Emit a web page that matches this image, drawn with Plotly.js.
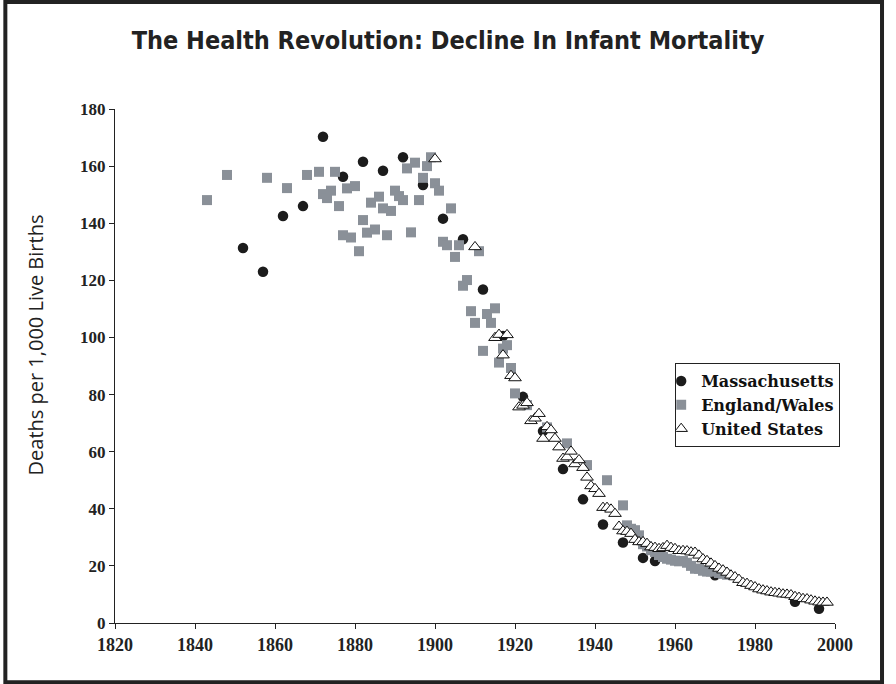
<!DOCTYPE html>
<html>
<head>
<meta charset="utf-8">
<script src="https://cdn.plot.ly/plotly-3.0.1.min.js"></script>
<style>
html,body{margin:0;padding:0;background:#fff;}
#chart{width:896px;height:684px;}
</style>
</head>
<body>
<div id="chart"></div>
<script>
// ---- Data ----
var maYears = [1852,1857,1862,1867,1872,1877,1882,1887,1892,1897,1902,1907,1912,1917,1922,1927,1932,1937,1942,1947,1952,1955,1970,1990,1996];
var maValues = [131.3,123.0,142.5,146.0,170.3,156.3,161.5,158.4,163.1,153.4,141.6,134.4,116.8,100.5,79.2,67.2,53.9,43.3,34.5,28.2,22.8,21.7,16.7,7.4,5.0];

var ewYears = [1843,1848,1858,1863,1868,1871,1872,1873,1874,1875,1876,1877,1878,1879,1880,1881,1882,1883,1884,1885,1886,1887,1888,1889,1890,1891,1892,1893,1894,1895,1896,1897,1898,1899,1900,1901,1902,1903,1904,1905,1906,1907,1908,1909,1910,1911,1912,1913,1914,1915,1916,1917,1918,1919,1920,1923,1928,1933,1938,1943,1947,1948,1949,1950,1951,1952,1953,1954,1955,1956,1957,1958,1959,1960,1961,1962,1963,1964,1965,1966,1967,1968,1969,1970,1971,1972,1973];
var ewValues = [148.1,156.9,155.9,152.3,156.9,158.0,150.2,148.8,151.4,158.0,146.0,135.8,152.2,135.0,153.0,130.2,141.1,136.7,147.2,137.8,149.3,145.2,135.8,144.3,151.4,149.5,148.1,159.2,136.8,161.2,148.1,155.9,160.0,163.1,154.0,151.4,133.5,132.3,145.2,128.2,132.3,118.1,120.1,109.2,105.1,130.2,95.3,108.2,105.1,110.2,91.2,96.1,97.3,89.3,80.4,76.3,68.5,62.9,55.3,50.0,41.2,34.2,33.0,32.5,30.7,27.6,26.8,25.5,24.9,23.8,23.1,22.5,22.2,21.8,21.6,21.7,21.1,20.0,19.0,19.0,18.3,18.0,18.0,18.2,17.5,17.2,16.9];

var usYears = [1900,1910,1915,1916,1917,1918,1919,1920,1921,1922,1923,1924,1925,1926,1927,1928,1929,1930,1931,1932,1933,1934,1935,1936,1937,1938,1939,1940,1941,1942,1943,1944,1945,1946,1947,1948,1949,1950,1951,1952,1953,1954,1955,1956,1957,1958,1959,1960,1961,1962,1963,1964,1965,1966,1967,1968,1969,1970,1971,1972,1973,1974,1975,1976,1977,1978,1979,1980,1981,1982,1983,1984,1985,1986,1987,1988,1989,1990,1991,1992,1993,1994,1995,1996,1997,1998];
var usValues = [162.5,131.7,99.9,101.0,93.8,100.9,86.6,85.8,75.6,76.2,77.1,70.8,71.7,73.3,64.6,68.7,67.6,64.6,61.6,57.6,58.1,60.1,55.7,57.1,54.4,51.0,48.0,47.0,45.3,40.4,40.4,39.8,38.3,33.8,32.2,32.0,31.3,29.2,28.4,28.4,27.8,26.6,26.4,26.0,26.3,27.1,26.4,26.0,25.3,25.3,25.2,24.8,24.7,23.7,22.4,21.8,20.9,20.0,19.1,18.5,17.7,16.7,16.1,15.2,14.1,13.8,13.1,12.6,11.9,11.5,11.2,10.8,10.6,10.4,10.1,10.0,9.8,9.2,8.9,8.5,8.4,8.0,7.6,7.3,7.2,7.2];

var seriesNames = ["Massachusetts","England/Wales","United States"];
var titleText = "The Health Revolution: Decline In Infant Mortality";
var yTitleText = "Deaths per 1,000 Live Births";
var xTickVals = [1820,1840,1860,1880,1900,1920,1940,1960,1980,2000];
var yTickVals = [0,20,40,60,80,100,120,140,160,180];

var serif = "'Liberation Serif', 'DejaVu Serif', serif";

var traces = [
  {x: maYears, y: maValues, name: seriesNames[0], type: "scatter", mode: "markers",
   marker: {symbol: "circle", size: 10.5, color: "#1c1c1c", line: {width: 0}}},
  {x: ewYears, y: ewValues, name: seriesNames[1], type: "scatter", mode: "markers",
   marker: {symbol: "square", size: 10, color: "#8a9098", line: {width: 0}}},
  {x: usYears, y: usValues, name: seriesNames[2], type: "scatter", mode: "markers",
   marker: {symbol: "triangle-up", size: 11, color: "#ffffff", line: {width: 1, color: "#111"}}}
];

var layout = {
  width: 896, height: 684,
  paper_bgcolor: "#ffffff", plot_bgcolor: "#ffffff",
  margin: {l: 114.7, r: 61, t: 109, b: 61.3, autoexpand: false},
  showlegend: true,
  title: {text: titleText, x: 0.5, xref: "container", y: 1 - 40/684, yref: "container",
          xanchor: "center", yanchor: "middle",
          font: {family: "'DejaVu Sans Condensed', 'DejaVu Sans', sans-serif", size: 25, color: "#222", weight: "bold"}},
  xaxis: {range: [1820, 2000], tickvals: xTickVals, ticks: "outside", ticklen: 5, tickwidth: 1, tickcolor: "#222",
          showline: true, linecolor: "#222", linewidth: 1, showgrid: false, zeroline: false,
          tickfont: {family: serif, size: 18, color: "#222", weight: "bold"}, automargin: false},
  yaxis: {range: [0, 180], tickvals: yTickVals, ticks: "outside", ticklen: 5, tickwidth: 1, tickcolor: "#222",
          showline: true, linecolor: "#222", linewidth: 1, showgrid: false, zeroline: false,
          tickfont: {family: serif, size: 17, color: "#222", weight: "bold"}, automargin: false},
  annotations: [
    {text: yTitleText, xref: "paper", yref: "paper", x: (35 - 114.7) / 720.3, y: (622.7 - 345) / 513.7,
     xanchor: "center", yanchor: "middle", textangle: -90, showarrow: false,
     font: {family: "'Open Sans', sans-serif", size: 20, color: "#222"}}
  ],
  legend: {x: 0.778, y: 0.5055, xanchor: "left", yanchor: "top", bgcolor: "#ffffff",
           bordercolor: "#222", borderwidth: 1, itemwidth: 30, tracegroupgap: 0, indentation: -15,
           font: {family: "'DejaVu Serif', serif", size: 16, color: "#111", weight: "bold"}},
  shapes: [
    {type: "rect", xref: "paper", yref: "paper", x0: -0.1523, x1: 1.0653, y0: -0.1154, y1: 1.2083,
     line: {color: "#222", width: 4}, fillcolor: "rgba(0,0,0,0)", layer: "above"}
  ]
};

Plotly.newPlot("chart", traces, layout, {displayModeBar: false, staticPlot: true});
</script>
</body>
</html>
